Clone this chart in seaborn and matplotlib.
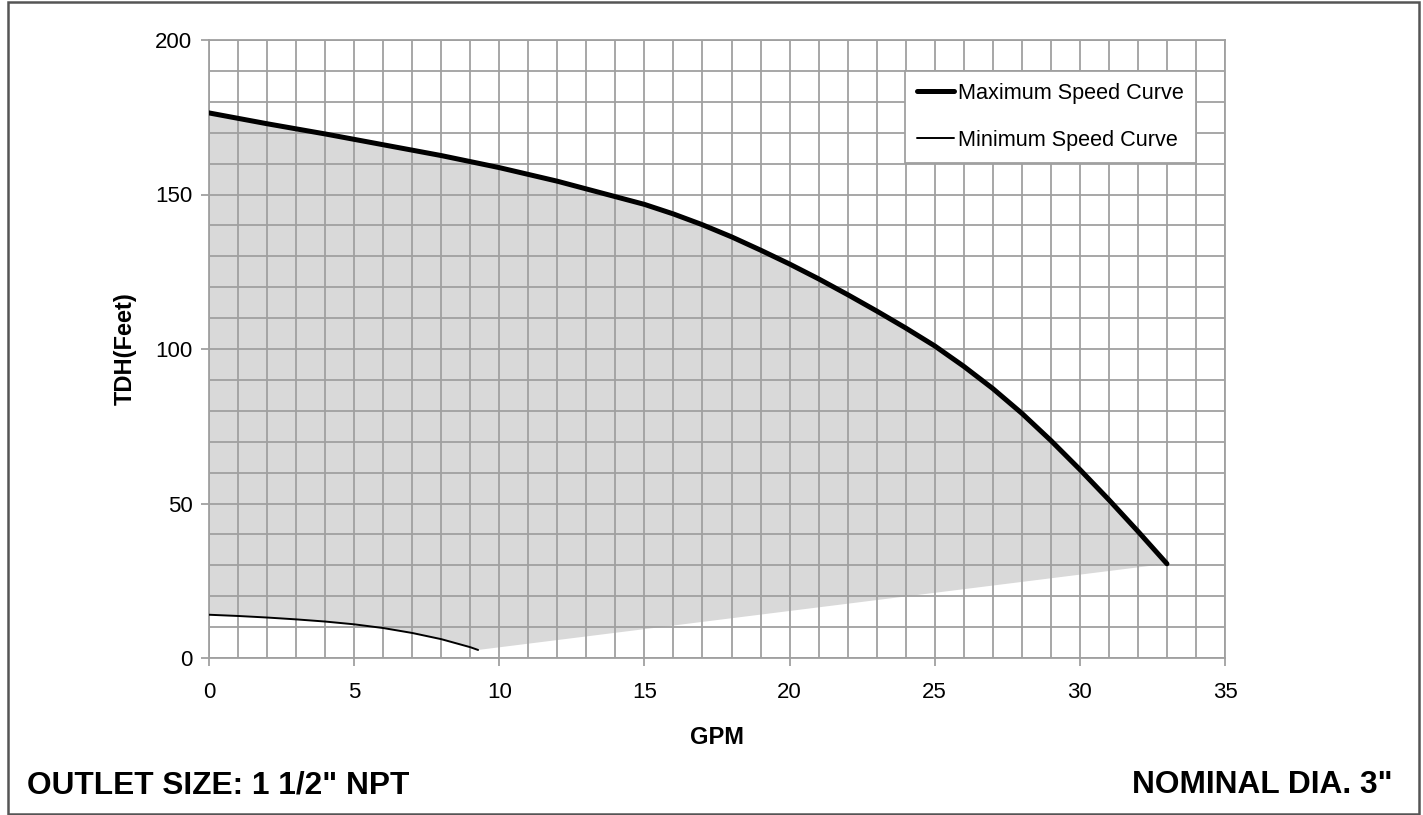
import seaborn as sns
import matplotlib.pyplot as plt
import pandas as pd
from matplotlib.ticker import MultipleLocator
from matplotlib.patches import Rectangle

# values
max_gpm = [0, 2, 4, 6, 8, 10, 12, 14, 15, 16, 17, 18, 19, 20, 21, 22, 23, 24,
           25, 26, 27, 28, 29, 30, 31, 32, 33]
max_tdh = [176.4, 172.9, 169.6, 166.1, 162.6, 158.7, 154.3, 149.3, 146.8, 143.7,
           140.2, 136.3, 132.0, 127.5, 122.7, 117.6, 112.3, 106.8, 101.0, 94.4,
           87.2, 79.2, 70.4, 61.0, 51.2, 41.0, 30.5]
min_gpm = [0, 1, 2, 3, 4, 5, 6, 7, 8, 9, 9.27]
min_tdh = [14.0, 13.6, 13.1, 12.5, 11.8, 10.9, 9.7, 8.1, 6.1, 3.5, 2.6]

x_ticks = [0, 5, 10, 15, 20, 25, 30, 35]
y_ticks = [0, 50, 100, 150, 200]

df_max = pd.DataFrame({'GPM': max_gpm, 'TDH': max_tdh})
df_min = pd.DataFrame({'GPM': min_gpm, 'TDH': min_tdh})

sns.set_style('white')
plt.rcParams['font.family'] = ['Liberation Sans', 'DejaVu Sans']
plt.rcParams['text.color'] = 'black'
plt.rcParams['axes.labelcolor'] = 'black'

grid_col = '#a0a0a0'
fig = plt.figure(figsize=(14.23, 8.15), dpi=100)
ax = fig.add_axes([209 / 1423, 1 - 658 / 815, 1016 / 1423, 618 / 815])

# operating region between the two curves
poly_x = max_gpm + min_gpm[::-1]
poly_y = max_tdh + min_tdh[::-1]
ax.fill(poly_x, poly_y, color='#d9d9d9', lw=0, zorder=0.2)

sns.lineplot(data=df_max, x='GPM', y='TDH', ax=ax, color='black', lw=3.6,
             label='Maximum Speed Curve', zorder=3, solid_capstyle='round')
sns.lineplot(data=df_min, x='GPM', y='TDH', ax=ax, color='black', lw=1.4,
             label='Minimum Speed Curve', zorder=3)

ax.set_xlim(0, 35)
ax.set_ylim(0, 200)
ax.set_xticks(x_ticks)
ax.set_yticks(y_ticks)
ax.xaxis.set_minor_locator(MultipleLocator(1))
ax.yaxis.set_minor_locator(MultipleLocator(10))
ax.set_axisbelow(True)
ax.grid(which='both', color=grid_col, lw=1.3)
ax.tick_params(which='major', length=6, width=1.3, color=grid_col,
               labelsize=16, labelcolor='black')
ax.tick_params(axis='x', which='major', pad=11)
ax.tick_params(axis='y', which='major', pad=6)
ax.tick_params(which='minor', length=0)
ax.tick_params(left=True, bottom=True)
for s in ax.spines.values():
    s.set_color(grid_col)
    s.set_linewidth(1.3)

ax.set_xlabel('GPM', fontsize=17, fontweight='bold')
ax.set_ylabel('TDH(Feet)', fontsize=17, fontweight='bold')
ax.xaxis.set_label_coords(0.5, -0.11)
ax.yaxis.set_label_coords(-0.071, 0.5)

leg = ax.legend(loc='upper right', bbox_to_anchor=(0.9715, 0.9498),
                borderaxespad=0, fontsize=15.6, frameon=True, fancybox=False,
                handlelength=1.7, handletextpad=0.2, labelspacing=1.2,
                borderpad=0.55)
leg.get_frame().set_edgecolor(grid_col)
leg.get_frame().set_linewidth(1.3)
leg.get_frame().set_alpha(1)

fig.text(27 / 1423, 1 - 785 / 815, 'OUTLET SIZE: 1 1/2" NPT', fontsize=22.8,
         fontweight='bold', ha='left', va='center')
fig.text(1393 / 1423, 1 - 785 / 815, 'NOMINAL DIA. 3"', fontsize=22.8,
         fontweight='bold', ha='right', va='center')

fig.patches.append(Rectangle((8 / 1423, 1 / 815), 1411 / 1423, 812 / 815,
                             transform=fig.transFigure, fill=False,
                             edgecolor='#555555', lw=1.8))

plt.savefig('out.png', dpi=100)
